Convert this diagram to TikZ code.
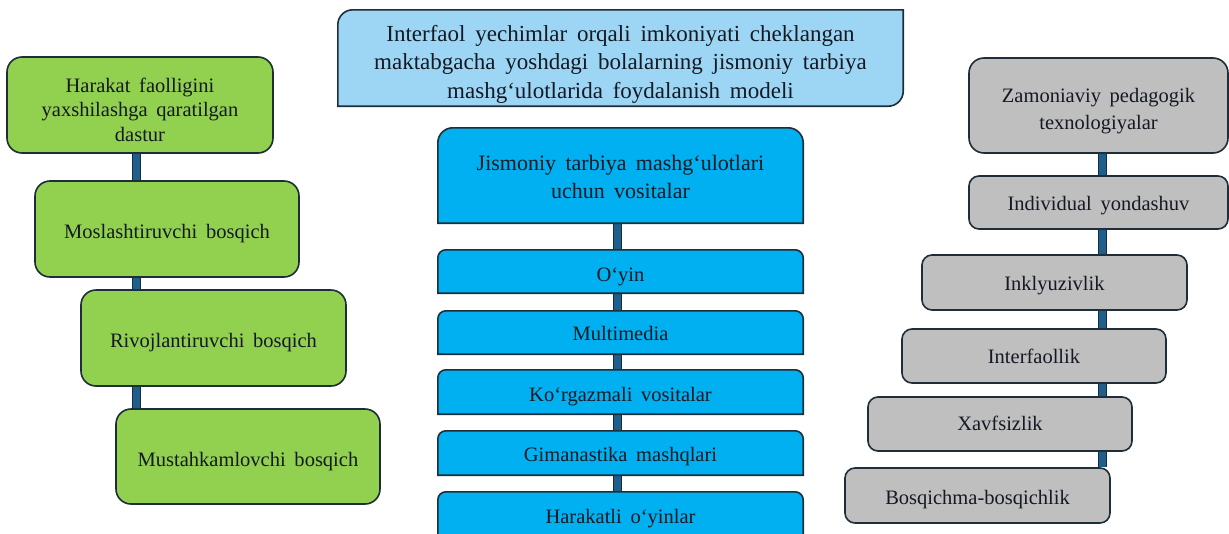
\documentclass[tikz,border=0pt]{standalone}
\usepackage{fontspec}
\setmainfont{Liberation Serif}[WordSpace=1.7]
\usetikzlibrary{backgrounds}
\definecolor{grn}{RGB}{146,208,80}
\definecolor{lblue}{RGB}{156,214,244}
\definecolor{blu}{RGB}{0,176,240}
\definecolor{gry}{RGB}{191,191,191}
\definecolor{edge}{RGB}{30,45,55}
\definecolor{txt}{RGB}{20,25,35}
\definecolor{barbl}{RGB}{30,95,140}
\definecolor{bardk}{RGB}{25,45,65}
\newcommand\ftitle{\fontsize{23}{28.5}\selectfont}
\newcommand\fmid{\fontsize{22}{28}\selectfont}
\newcommand\fbody{\fontsize{20.5}{24}\selectfont}
\newcommand\fbodyg{\fontsize{20.5}{24.5}\selectfont}
\newcommand\fbodyw{\fontsize{20.5}{26.5}\selectfont}
% lowered centred text block (box keeps its natural size)
\newcommand\T[2][4pt]{\raisebox{-#1}[\height][\depth]{\begin{tabular}{@{}c@{}}#2\end{tabular}}}
\pgfdeclarelayer{bars}
\pgfdeclarelayer{shapes}
\pgfsetlayers{bars,shapes,main}
% node, radius, fill colour: only top corners rounded
\newcommand\toprnd[3]{\path[draw=edge,line width=1.6pt,fill=#3]
  (#1.south west) -- ([yshift=-#2]#1.north west)
  arc[start angle=180,end angle=90,radius=#2]
  -- ([xshift=-#2]#1.north east)
  arc[start angle=90,end angle=0,radius=#2]
  -- (#1.south east) -- cycle;}
% node, radius, fill colour: top-left and bottom-right rounded
\newcommand\diagrnd[3]{\path[draw=edge,line width=1.6pt,fill=#3]
  (#1.south west) -- ([yshift=-#2]#1.north west)
  arc[start angle=180,end angle=90,radius=#2]
  -- (#1.north east) -- ([yshift=#2]#1.south east)
  arc[start angle=0,end angle=-90,radius=#2]
  -- cycle;}
\tikzset{
  lbl/.style={text=txt, inner sep=0pt},
  gbox/.style={lbl, draw=edge, line width=1.6pt, fill=grn, rounded corners=15pt, font=\fbody},
  graybox/.style={lbl, draw=edge, line width=1.6pt, fill=gry, rounded corners=10pt, font=\fbody},
  bbox/.style={lbl, minimum width=365pt, font=\fbody},
  bar/.style={draw=bardk, line width=1.3pt, double=barbl, double distance=6.5pt}
}
\begin{document}
\begin{tikzpicture}[x=1pt,y=-1pt]
\useasboundingbox (0,0) rectangle (1229,533);
\coordinate (lb) at (136.5,0);
\coordinate (cb) at (617.5,0);
\coordinate (rb) at (1102.5,0);

% centre column
\node[lbl, minimum width=565pt, minimum height=96pt, font=\ftitle] (title) at (620.5,58)
  {\T[6pt]{Interfaol yechimlar orqali imkoniyati cheklangan\\maktabgacha yoshdagi bolalarning jismoniy tarbiya\\mashg‘ulotlarida foydalanish modeli}};
\node[lbl, minimum width=365pt, minimum height=95pt, font=\fmid] (jt) at (620.5,175.5)
  {\T[3pt]{Jismoniy tarbiya mashg‘ulotlari\\uchun vositalar}};
\node[bbox, minimum height=43pt] (b1) at (620.5,271.5) {\T[5pt]{O‘yin}};
\node[bbox, minimum height=43pt] (b2) at (620.5,332.5) {\T[3pt]{Multimedia}};
\node[bbox, minimum height=44pt] (b3) at (620.5,392) {\T[5pt]{Ko‘rgazmali vositalar}};
\node[bbox, minimum height=44pt] (b4) at (620.5,453) {\T[4pt]{Gimanastika mashqlari}};
\node[bbox, minimum height=44pt] (b5) at (620.5,514) {\T[5pt]{Harakatli o‘yinlar}};
\begin{pgfonlayer}{shapes}
  \diagrnd{title}{15pt}{lblue}
  \toprnd{jt}{15pt}{blu}
  \toprnd{b1}{8pt}{blu}
  \toprnd{b2}{8pt}{blu}
  \toprnd{b3}{8pt}{blu}
  \toprnd{b4}{8pt}{blu}
  \toprnd{b5}{8pt}{blu}
\end{pgfonlayer}

% left column
\node[gbox, minimum width=266pt, minimum height=96pt, font=\fbodyg] (g1) at (140,105)
  {\T[7pt]{Harakat faolligini\\yaxshilashga qaratilgan\\dastur}};
\node[gbox, minimum width=264pt, minimum height=96pt] (g2) at (167,229) {\T[5pt]{Moslashtiruvchi bosqich}};
\node[gbox, minimum width=265pt, minimum height=96pt] (g3) at (213.5,338) {\T[5pt]{Rivojlantiruvchi bosqich}};
\node[gbox, minimum width=264pt, minimum height=95pt] (g4) at (248,456.5) {\T[5pt]{Mustahkamlovchi bosqich}};

% right column
\node[graybox, rounded corners=15pt, minimum width=259pt, minimum height=95pt, font=\fbodyw] (r1) at (1098.5,105.5)
  {\T[5pt]{Zamoniaviy pedagogik\\texnologiyalar}};
\node[graybox, minimum width=259pt, minimum height=53pt] (r2) at (1098.5,202.5) {\T[3pt]{Individual yondashuv}};
\node[graybox, minimum width=265pt, minimum height=55pt] (r3) at (1054.5,282.5) {\T[3pt]{Inklyuzivlik}};
\node[graybox, minimum width=264pt, minimum height=54pt] (r4) at (1034,356) {\T[3pt]{Interfaollik}};
\node[graybox, minimum width=264pt, minimum height=54pt] (r5) at (1000,424) {\T[2pt]{Xavfsizlik}};
\node[graybox, minimum width=265pt, minimum height=55pt] (r6) at (977.5,495.5) {\T[4pt]{Bosqichma-bosqichlik}};

% connectors
\begin{pgfonlayer}{bars}
  \draw[bar] (g1.south -| lb) -- (g2.north -| lb);
  \draw[bar] (g2.south -| lb) -- (g3.north -| lb);
  \draw[bar] (g3.south -| lb) -- (g4.north -| lb);
  \draw[bar] (jt.south -| cb) -- (b1.north -| cb);
  \draw[bar] (b1.south -| cb) -- (b2.north -| cb);
  \draw[bar] (b2.south -| cb) -- (b3.north -| cb);
  \draw[bar] (b3.south -| cb) -- (b4.north -| cb);
  \draw[bar] (b4.south -| cb) -- (b5.north -| cb);
  \draw[bar] (r1.south -| rb) -- (r2.north -| rb);
  \draw[bar] (r2.south -| rb) -- (r3.north -| rb);
  \draw[bar] (r3.south -| rb) -- (r4.north -| rb);
  \draw[bar] (r4.south -| rb) -- (r5.north -| rb);
  \draw[bar] (r5.south -| rb) -- (r6.north -| rb);
\end{pgfonlayer}
\end{tikzpicture}
\end{document}
